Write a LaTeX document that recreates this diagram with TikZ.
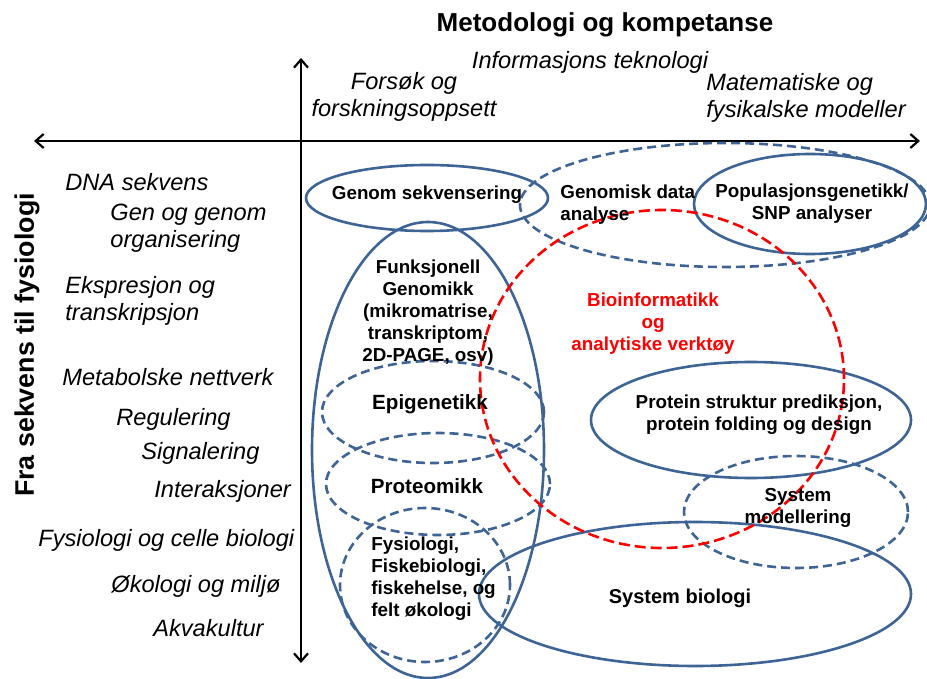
\documentclass[tikz,border=0pt]{standalone}
\usepackage{fontspec}
\setmainfont{Liberation Sans}
\usetikzlibrary{arrows.meta,shapes.geometric}
\definecolor{ringblue}{RGB}{62,100,150}
\definecolor{biored}{RGB}{255,0,0}
\tikzstyle{every picture}+=[x=0.5pt,y=-0.5pt]
\tikzstyle{every picture}+=[>={Straight Barb[length=4pt,width=7pt]}]
\tikzstyle{axisline}=[<->,line width=1.1pt]
\tikzstyle{ring}=[ellipse,draw=ringblue,line width=1.3pt,inner sep=0pt]
\tikzstyle{dashring}=[ring,dash pattern=on 4.5pt off 2.5pt]
\tikzstyle{bioring}=[ring,draw=biored,dash pattern=on 5.5pt off 2.5pt]
\tikzstyle{leftlab}=[font=\fontsize{11.8}{13.5}\selectfont\itshape,inner sep=0pt,align=left]
\tikzstyle{fieldtext}=[font=\fontsize{9.4}{11}\selectfont\bfseries,inner sep=0pt,align=center]
\tikzstyle{bigfield}=[fieldtext,font=\fontsize{10.3}{12}\selectfont\bfseries]

\begin{document}
\begin{tikzpicture}
\useasboundingbox (0,0) rectangle (927,679);

% axes
\coordinate (ytop) at (301,58);
\coordinate (ybottom) at (301,663);
\coordinate (xleft) at (34,141);
\coordinate (xright) at (920,141);
\draw[axisline] (ybottom) -- (ytop);
\draw[axisline] (xleft) -- (xright);

\node[font=\fontsize{13}{15}\selectfont\bfseries] (title) at (605,25) {Metodologi og kompetanse};
\node[font=\fontsize{13.4}{15}\selectfont\bfseries,rotate=90] (ytitle) at (27,345) {Fra sekvens til fysiologi};

% methods along the top
\node[leftlab,align=center] (forsok) at (404,97) {Fors\o k og\\forskningsoppsett};
\node[leftlab] (infotek) at (590,62) {Informasjons teknologi};
\node[leftlab,anchor=west] (matmod) at (706,98) {Matematiske og\\fysikalske modeller};

% levels along the side
\node[leftlab,anchor=west] (dna) at (65,182) {DNA sekvens};
\node[leftlab,anchor=west] (genorg) at (110,228) {Gen og genom\\organisering};
\node[leftlab,anchor=west] (ekspr) at (65,301) {Ekspresjon og\\transkripsjon};
\node[leftlab,anchor=west] (metab) at (62,377) {Metabolske nettverk};
\node[leftlab,anchor=west] (regul) at (116,419) {Regulering};
\node[leftlab,anchor=west] (signal) at (141,453) {Signalering};
\node[leftlab,anchor=west] (interak) at (154,491) {Interaksjoner};
\node[leftlab,anchor=west] (fysbio) at (38,540) {Fysiologi og celle biologi};
\node[leftlab,anchor=west] (okologi) at (111,586) {\O kologi og milj\o};
\node[leftlab,anchor=west] (akva) at (153,628) {Akvakultur};

% fields
\node[ring,minimum width=121pt,minimum height=33pt] (genomsek) at (427,198) {};
\node[dashring,minimum width=205pt,minimum height=62pt] (genomdata) at (725,205) {};
\node[ring,minimum width=116pt,minimum height=50pt] (popgen) at (810,204) {};
\node[ring,minimum width=116pt,minimum height=228pt] (funkgen) at (428,450) {};
\node[dashring,minimum width=111pt,minimum height=51pt] (epigen) at (433,412) {};
\node[dashring,minimum width=112pt,minimum height=51pt] (proteom) at (438,484) {};
\node[dashring,minimum width=85pt,minimum height=77pt] (fysiol) at (425,585) {};
\node[ring,minimum width=160pt,minimum height=58pt] (protein) at (751,420) {};
\node[dashring,minimum width=112pt,minimum height=56pt] (sysmod) at (796,512) {};
\node[ring,minimum width=216pt,minimum height=72pt] (sysbio) at (695,594) {};
\node[bioring,minimum width=182pt,minimum height=169pt] (bioinf) at (662,379) {};

\node[fieldtext] (genomsektext) at (427,195) {Genom sekvensering};
\node[fieldtext,align=left,anchor=west] (genomdatatext) at (560,205) {Genomisk data\\analyse};
\node[fieldtext] (popgentext) at (812,204) {Populasjonsgenetikk/\\SNP analyser};
\node[fieldtext] (funkgentext) at (428,313) {Funksjonell\\Genomikk\\(mikromatrise,\\transkriptom,\\2D-PAGE, osv)};
\node[fieldtext,text=biored] (bioinftext) at (653,324) {Bioinformatikk\\og\\analytiske verkt\o y};
\node[bigfield] (epigentext) at (430,404) {Epigenetikk};
\node[bigfield] (proteomtext) at (427,486) {Proteomikk};
\node[fieldtext,align=left,anchor=west] (fysioltext) at (371,579) {Fysiologi,\\Fiskebiologi,\\fiskehelse, og\\felt \o kologi};
\node[fieldtext] (proteintext) at (759,415) {Protein struktur prediksjon,\\protein folding og design};
\node[fieldtext] (sysmodtext) at (798,508) {System\\modellering};
\node[fieldtext,font=\fontsize{10}{12}\selectfont\bfseries] (sysbiotext) at (680,598) {System biologi};
\end{tikzpicture}
\end{document}
